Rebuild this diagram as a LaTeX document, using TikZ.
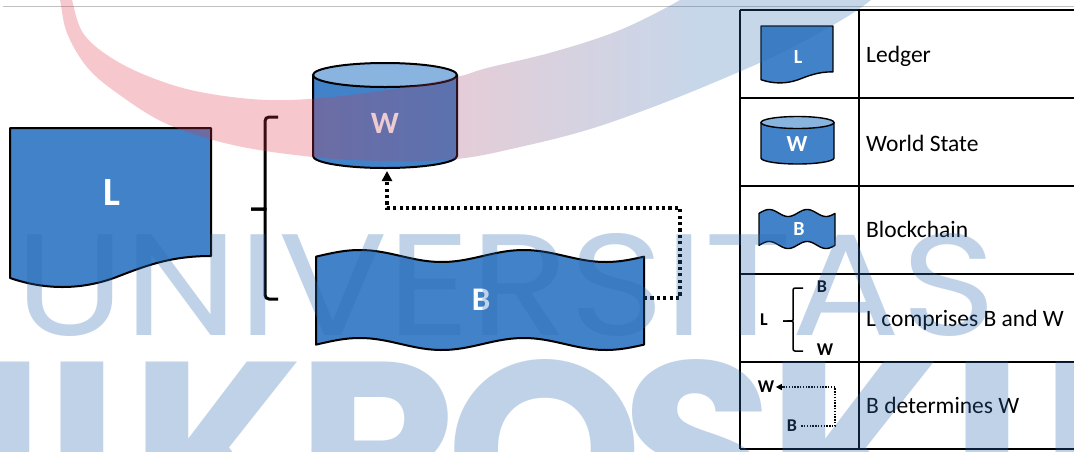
\documentclass[tikz,border=0pt]{standalone}
\usepackage{graphicx}
\usepackage{fontspec}
\setmainfont{Carlito}
\newfontfamily\wmfont{Poppins}
\usetikzlibrary{arrows.meta,calc}

\definecolor{docblue}{RGB}{66,130,200}
\definecolor{toplight}{RGB}{138,180,224}
\definecolor{wmblue}{RGB}{46,109,180}
\definecolor{wmred}{RGB}{222,52,72}
\definecolor{rulegray}{RGB}{192,192,192}

% red-to-blue colour run of the swoosh
\pgfdeclarehorizontalshading{swoosh}{100bp}{color(0bp)=(wmred); color(41bp)=(wmred); color(64bp)=(wmblue); color(100bp)=(wmblue)}

% punched tape: x0, x1, top line, bottom line, wave height (two waves)
\newcommand\tapepath[5]{plot[domain=#1:#2,samples=80] (\x,{#3-#5*cos(((\x-#1)/(#2-#1))*720-96)}) -- plot[domain=#2:#1,samples=80] (\x,{#4-#5*cos(((\x-#1)/(#2-#1))*720-96)}) -- cycle}

% document sheet with a wavy foot, 201 x 150 units
\newcommand\docpath{(0,0) -- (201,0) -- (201,128) .. controls (160,128) and (135,138) .. (104,150) .. controls (70,162) and (35,162) .. (0,150) -- cycle}

% database drum: cx, top centre, bottom centre, rx, ry, line width
\newcommand\drumshape[6]{%
  \fill[docblue] (#1-#4,#2) -- (#1-#4,#3) arc[start angle=180,end angle=0,x radius=#4,y radius=#5] -- (#1+#4,#2) -- cycle;
  \draw[line width=#6, fill=toplight] (#1,#2) ellipse[x radius=#4,y radius=#5];
  \draw[line width=#6, line join=round] (#1-#4,#2) -- (#1-#4,#3) arc[start angle=180,end angle=0,x radius=#4,y radius=#5] -- (#1+#4,#2);}

\tikzset{
  outline/.style={draw=black, line width=2pt, line join=round, fill=docblue},
  smalloutline/.style={draw=black, line width=1.4pt, line join=round, fill=docblue},
  biglabel/.style={text=white, inner sep=0pt, font=\fontsize{#1}{#1}\selectfont\bfseries},
  keylabel/.style={text=black, inner sep=0pt, font=\fontsize{18}{18}\selectfont\bfseries},
  legendtext/.style={anchor=base west, inner sep=0pt, font=\fontsize{23.5}{23.5}\selectfont},
  tableline/.style={line width=1.6pt},
  flowdots/.style={line width=3.2pt, dash pattern=on 3.2pt off 3.2pt, -{Triangle[length=10pt,width=10pt]}},
  smalldots/.style={line width=1.4pt, dash pattern=on 1.4pt off 1.4pt, -{Triangle[length=6pt,width=6pt]}},
  bracemain/.style={line width=3pt, rounded corners=4pt},
  bracekey/.style={line width=1.5pt, rounded corners=2pt},
  watermark/.style={inner sep=0pt, text=wmblue, text opacity=0.3}
}

\begin{document}
\begin{tikzpicture}[x=1pt,y=-1pt]
\useasboundingbox (0,0) rectangle (1074,451);
\fill[white] (0,0) rectangle (1074,451);
\clip (0,0) rectangle (1074,451);

% rule across the top
\draw[rulegray, line width=1pt] (3,6) -- (1074,6);

% ledger sheet
\begin{scope}[shift={(10,128)}]
  \path[outline] \docpath;
\end{scope}
\node[biglabel=40] (L) at (112,193) {L};

% world state drum
\drumshape{385}{75}{156}{72}{12}{2pt}
\node[biglabel=31] (W) at (385,123) {W};
\coordinate (Wbase) at (387,171);

% blockchain tape
\path[outline] \tapepath{316}{644}{256}{344}{6};
\node[biglabel=33] (B) at (481,300) {B};
\coordinate (Bport) at (644,298);

% brace: L comprises B and W
\draw[bracemain] (278,117) -| (265,205) .. controls (265,209) .. (251,209);
\draw[bracemain] (251,209) .. controls (265,209) .. (265,213) |- (278,299);

% B determines W
\draw[flowdots] (Bport) -- ++(36,0) |- ($(Wbase)+(0,37)$) -- (Wbase);

% legend table
\foreach \yy in {10,98,186,274,362,449}
  \draw[tableline] (740,\yy) -- (1074,\yy);
\draw[tableline] (740,10) -- (740,449);
\draw[tableline] (859,10) -- (859,449);

\begin{scope}[shift={(761,26)}, scale=0.358]
  \path[smalloutline] \docpath;
\end{scope}
\node[biglabel=20] (iconL) at (798,57) {L};
\node[legendtext] (tLedger) at (866,62) {Ledger};

\drumshape{797.5}{122.5}{158}{36.5}{6}{1.4pt}
\node[biglabel=23] (iconW) at (797,144) {W};
\node[legendtext] (tWorld) at (866,151) {World State};

\path[smalloutline] \tapepath{759}{835}{213}{245}{3.5};
\node[biglabel=20] (iconB) at (799,229) {B};
\node[legendtext] (tChain) at (866,237) {Blockchain};

\node[keylabel] (cL) at (764,320) {L};
\node[keylabel] (cB) at (822,287) {B};
\node[keylabel] (cW) at (825,350) {W};
\draw[bracekey] (803,288) -| (793,318) .. controls (793,321) .. (783,321);
\draw[bracekey] (783,321) .. controls (793,321) .. (793,324) |- (803,351);
\node[legendtext] (tComp) at (866,326) {L comprises B and W};

\node[keylabel] (dW) at (766,387) {W};
\node[keylabel] (dB) at (792,426) {B};
\draw[smalldots, shorten <=4pt, shorten >=1.5pt] (dB.east) -| (835,387) -- (dW.east);
\node[legendtext] (tDet) at (866,413) {B determines W};

% translucent swoosh
\shade[shading=swoosh, fill opacity=0.27]
  plot[smooth, tension=0.6] coordinates {(56,-12) (60,0) (67,33) (87,67) (117,93) (167,124) (233,145) (313,157) (385,161) (457,159) (520,147) (587,130) (653,107) (720,80) (787,50) (853,13) (885,-12)}
  -- plot[smooth, tension=0.6] coordinates {(692,-12) (680,0) (620,30) (553,52) (487,68) (457,77) (400,88) (333,97) (267,100) (200,92) (150,77) (110,57) (83,33) (72,0) (70,-12)}
  -- cycle;

% translucent lettering
\node[watermark, anchor=base west] (wmTop) at (15,335) {\resizebox{980pt}{102pt}{\wmfont UNIVERSITAS}};
\foreach \ch/\cx [count=\i] in {M/-70, I/82, K/218, R/378, O/545, S/698, K/855, I/987, L/1100}
  \node[watermark, anchor=base, font=\wmfont\fontsize{250}{250}\selectfont\bfseries] (wmb\i) at (\cx,537) {\ch};
\end{tikzpicture}
\end{document}
